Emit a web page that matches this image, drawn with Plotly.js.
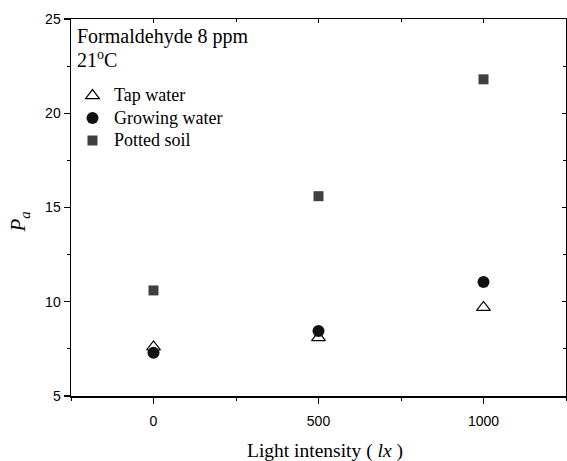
<!DOCTYPE html>
<html>
<head>
<meta charset="utf-8">
<script src="https://cdn.plot.ly/plotly-3.0.1.min.js"></script>
<style>html,body{margin:0;padding:0;background:#fff}#chart{width:567px;height:461px}</style>
</head>
<body>
<div id="chart"></div>
<script>
var lightIntensity = [0, 500, 1000];
var tapWater = [7.6, 8.1, 9.7];
var growingWater = [7.3, 8.45, 11.05];
var pottedSoil = [10.6, 15.6, 21.8];
var seriesNames = ['Tap water', 'Growing water', 'Potted soil'];
var xTicks = [0, 500, 1000];
var yTicks = [5, 10, 15, 20, 25];
var xTitle = 'Light intensity ( <i>lx</i> )';
var yTitle = '<i>P</i><sub><i>a</i></sub>';

function legendLabel(s) { return '<span style="font-size:18px">' + s + '</span>'; }

var traces = [
  {x: lightIntensity, y: tapWater, name: legendLabel(seriesNames[0]), type: 'scatter', mode: 'markers',
   marker: {symbol: 'triangle-up-open', size: 12, color: '#000', line: {width: 1.2, color: '#000'}}},
  {x: lightIntensity, y: growingWater, name: legendLabel(seriesNames[1]), type: 'scatter', mode: 'markers',
   marker: {symbol: 'circle', size: 12, color: '#111'}},
  {x: lightIntensity, y: pottedSoil, name: legendLabel(seriesNames[2]), type: 'scatter', mode: 'markers',
   marker: {symbol: 'square', size: 10, color: '#404040'}},
  {x: [lightIntensity[0]], y: [tapWater[0]], xaxis: 'x2', yaxis: 'y2', type: 'scatter', mode: 'markers',
   marker: {opacity: 0}, showlegend: false, hoverinfo: 'skip'}
];

var tickFont = {family: '"Liberation Sans", Arial, sans-serif', size: 14, color: '#000'};
var serif = '"Liberation Serif", "Times New Roman", Times, serif';

var layout = {
  width: 567, height: 461,
  margin: {l: 71, r: 1, t: 19, b: 65},
  paper_bgcolor: '#fff', plot_bgcolor: '#fff',
  showlegend: true,
  legend: {x: 0.0, y: 0.84, xanchor: 'left', yanchor: 'top', bgcolor: 'rgba(0,0,0,0)',
           font: {family: serif, size: 15, color: '#000'}, itemwidth: 33, tracegroupgap: 0},
  xaxis: {range: [-250, 1250], tickvals: xTicks, ticks: 'outside', ticklen: 6, tickwidth: 1.2,
          tickcolor: '#000', showline: true, linecolor: '#000', linewidth: 1.5, showgrid: false,
          zeroline: false, tickfont: tickFont, ticklabelstandoff: 6,
          minor: {dtick: 250, tick0: 0, ticks: 'outside', ticklen: 3, tickwidth: 1, tickcolor: '#000'}},
  yaxis: {range: [5, 25], tickvals: yTicks, ticks: 'outside', ticklen: 6, tickwidth: 1.2,
          tickcolor: '#000', showline: true, linecolor: '#000', linewidth: 1.5, showgrid: false,
          zeroline: false, tickfont: tickFont,
          minor: {dtick: 2.5, tick0: 0, ticks: 'outside', ticklen: 3, tickwidth: 1, tickcolor: '#000'}},
  xaxis2: {overlaying: 'x', side: 'top', range: [-250, 1250], tickvals: xTicks, ticks: 'inside', ticklen: 4,
           tickcolor: '#000', showticklabels: false, showline: true, linecolor: '#000', linewidth: 1.5,
           showgrid: false, zeroline: false,
           minor: {dtick: 250, tick0: 0, ticks: 'inside', ticklen: 3, tickcolor: '#000'}},
  yaxis2: {overlaying: 'y', side: 'right', range: [5, 25], tickvals: yTicks, ticks: 'inside', ticklen: 4,
           tickcolor: '#000', showticklabels: false, showline: true, linecolor: '#000', linewidth: 1.5,
           showgrid: false, zeroline: false,
           minor: {dtick: 2.5, tick0: 0, ticks: 'inside', ticklen: 3, tickcolor: '#000'}},
  annotations: [
    {xref: 'paper', yref: 'paper', x: 0.008, y: 0.99, xanchor: 'left', yanchor: 'top', showarrow: false,
     align: 'left', text: 'Formaldehyde 8 ppm', font: {family: serif, size: 20, color: '#000'}},
    {xref: 'paper', yref: 'paper', x: 0.008, y: 0.93, xanchor: 'left', yanchor: 'top', showarrow: false,
     align: 'left', text: '21<sup>o</sup>C', font: {family: serif, size: 20, color: '#000'}},
    {xref: 'paper', yref: 'paper', x: 0.513, y: -0.145, xanchor: 'center', yanchor: 'middle', showarrow: false,
     text: xTitle, font: {family: serif, size: 19.5, color: '#000'}},
    {xref: 'paper', yref: 'paper', x: -0.105, y: 0.46, xanchor: 'center', yanchor: 'middle', showarrow: false,
     textangle: -90, text: yTitle, font: {family: serif, size: 21, color: '#000'}}
  ]
};

Plotly.newPlot('chart', traces, layout, {displayModeBar: false, staticPlot: true});
</script>
</body>
</html>
